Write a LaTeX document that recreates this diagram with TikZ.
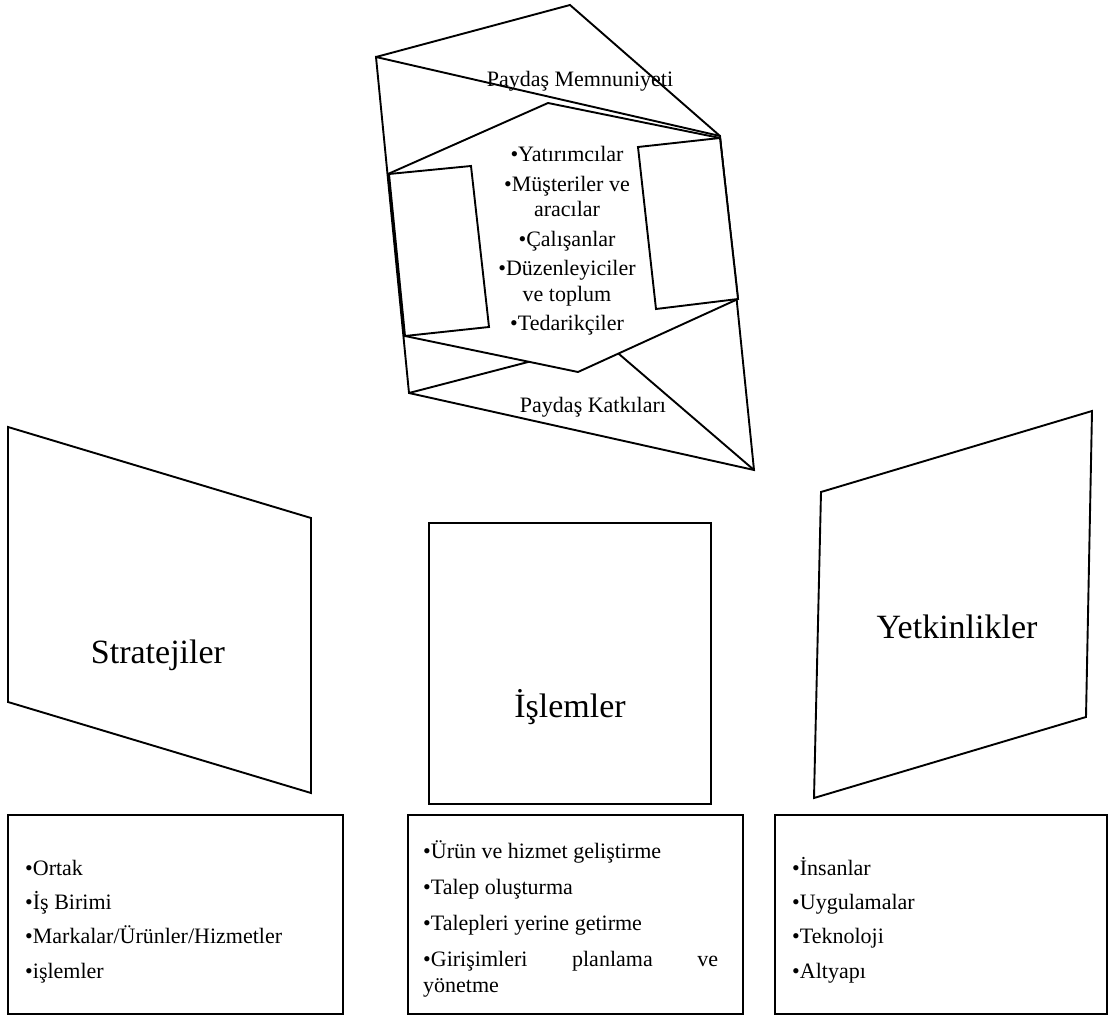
\documentclass[tikz,border=0pt]{standalone}
\usepackage{fontspec}
\setmainfont{Liberation Serif}
\begin{document}
\begin{tikzpicture}[x=1pt,y=-1pt,line join=miter,
  edge/.style={draw=black,line width=1.9pt},
  face/.style={draw=black,fill=white,line width=1.9pt},
  boxline/.style={draw=black,line width=2.1pt},
  biglabel/.style={font=\fontsize{34}{40}\selectfont,inner sep=0pt,anchor=base},
  midlabel/.style={font=\fontsize{22}{26}\selectfont,inner sep=0pt,anchor=base},
  listtext/.style={font=\fontsize{22}{26}\selectfont,inner sep=0pt,anchor=north west,align=left},
  centertext/.style={font=\fontsize{22}{25.5}\selectfont,inner sep=0pt,anchor=north,align=center}
]
\useasboundingbox (0,0) rectangle (1109,1016);

% ---- stakeholder prism ----
\coordinate (A) at (376,57);
\coordinate (B) at (570,5);
\coordinate (C) at (720,136);
\coordinate (D) at (754,470);
\coordinate (E) at (409,393);
\coordinate (P) at (605,342);
% back face, top flap and bottom flap
\draw[edge] (A) -- (C) -- (D) -- (E) -- cycle;
\draw[edge] (A) -- (B) -- (C);
\draw[edge] (E) -- (P) -- (D);
% central hexagon
\filldraw[face] (388,174) -- (548,103) -- (720,138) -- (738,299) -- (578,372) -- (405,336) -- cycle;
% side panels
\filldraw[face] (389,174) -- (471,166) -- (489,327) -- (405,336) -- cycle;
\filldraw[face] (638,147) -- (720,138) -- (738,299) -- (656,309) -- cycle;

\node[midlabel] (memnun) at (580,87) {Paydaş Memnuniyeti};
\node[midlabel] (katki) at (593,413) {Paydaş Katkıları};
\node[centertext] (paydas) at (567,143.8) {\strut•Yatırımcılar\\[4pt]•Müşteriler ve\\aracılar\\[4pt]•Çalışanlar\\[4pt]•Düzenleyiciler\\ve toplum\\[4pt]•Tedarikçiler};

% ---- three pillars ----
\draw[edge] (8,427) -- (311,518) -- (311,793) -- (8,702) -- cycle;
\node[biglabel] (strat) at (158,663) {Stratejiler};

\draw[edge] (429,523) rectangle (711,804);
\node[biglabel] (islem) at (570,717) {İşlemler};

\draw[edge] (821,492) -- (1092,411) -- (1086,717) -- (814,798) -- cycle;
\node[biglabel] (yetki) at (957,638) {Yetkinlikler};

% ---- detail boxes ----
\draw[boxline] (8,815) rectangle (343,1014);
\node[listtext] (stratlist) at (25,856.8) {\strut•Ortak\\[8.3pt]•İş Birimi\\[8.3pt]•Markalar/Ürünler/Hizmetler\\[8.3pt]•işlemler};

\draw[boxline] (408,815) rectangle (743,1014);
\node[listtext] (islemlist) at (423,839.8) {\strut•Ürün ve hizmet geliştirme\\[10pt]•Talep oluşturma\\[10pt]•Talepleri yerine getirme\\[10pt]\hbox to 295pt{•Girişimleri\hfill planlama\hfill ve}\\yönetme};

\draw[boxline] (775,815) rectangle (1107,1014);
\node[listtext] (yetkilist) at (792,856.8) {\strut•İnsanlar\\[8.3pt]•Uygulamalar\\[8.3pt]•Teknoloji\\[8.3pt]•Altyapı};
\end{tikzpicture}
\end{document}
